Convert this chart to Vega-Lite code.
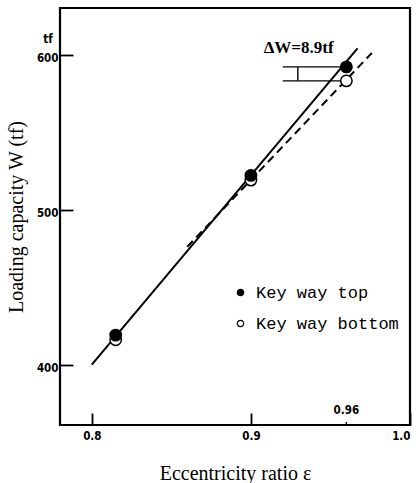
{
  "$schema": "https://vega.github.io/schema/vega-lite/v6.json",
  "autosize": {"type": "none"},
  "width": 350,
  "height": 417,
  "padding": {"left": 60, "top": 8, "right": 10, "bottom": 58},
  "background": "white",
  "config": {
    "view": {"stroke": "black", "strokeWidth": 2.2},
    "axis": {
      "domain": false,
      "grid": false,
      "ticks": true,
      "tickColor": "black",
      "tickWidth": 1.8,
      "labelColor": "black",
      "labelFont": "DejaVu Sans Condensed",
      "labelFontWeight": "bold",
      "labelFontSize": 11.5,
      "titleFont": "Liberation Serif",
      "titleFontWeight": "normal",
      "titleFontSize": 20,
      "titleColor": "black"
    }
  },
  "datasets": {
    "pts": [
      {"eps": 0.815, "W": 416, "series": "Key way bottom"},
      {"eps": 0.9, "W": 519, "series": "Key way bottom"},
      {"eps": 0.96, "W": 583, "series": "Key way bottom"},
      {"eps": 0.815, "W": 419, "series": "Key way top"},
      {"eps": 0.9, "W": 522, "series": "Key way top"},
      {"eps": 0.96, "W": 592, "series": "Key way top"}
    ],
    "solid": [
      {"eps": 0.8, "W": 400},
      {"eps": 0.967, "W": 604}
    ],
    "dashed": [
      {"eps": 0.86, "W": 476},
      {"eps": 0.976, "W": 601}
    ],
    "hsegs": [
      {"xa": 0.92, "xb": 0.959, "W": 592},
      {"xa": 0.92, "xb": 0.957, "W": 583}
    ],
    "vsegs": [
      {"eps": 0.9295, "Wa": 583, "Wb": 592},
      {"eps": 0.96, "Wa": 361, "Wb": 363}
    ],
    "labels": [
      {"eps": 0.93, "W": 604.5, "text": "ΔW=8.9tf", "kind": "delta"},
      {"eps": 0.96, "W": 370, "text": "0.96", "kind": "tick"},
      {"eps": 0.7725, "W": 609.5, "text": "tf", "kind": "unit"}
    ]
  },
  "layer": [
    {
      "data": {"name": "solid"},
      "mark": {"type": "line", "color": "black", "strokeWidth": 2},
      "encoding": {
        "x": {"field": "eps", "type": "quantitative", "scale": {"domain": [0.78, 1.0], "nice": false},
          "axis": {"values": [0.8, 0.9, 1.0], "format": ".1f", "offset": -12, "tickSize": 12, "labelPadding": 5, "title": "Eccentricity ratio  ε", "titlePadding": 22}},
        "y": {"field": "W", "type": "quantitative", "scale": {"domain": [361, 630], "nice": false, "zero": false},
          "axis": {"values": [400, 500, 600], "offset": -13, "tickSize": 13, "labelPadding": 2, "labelOffset": 4, "title": "Loading capacity  W (tf)", "titlePadding": 10}}
      }
    },
    {
      "data": {"name": "dashed"},
      "mark": {"type": "line", "color": "black", "strokeWidth": 2, "strokeDash": [8, 5]},
      "encoding": {
        "x": {"field": "eps", "type": "quantitative"},
        "y": {"field": "W", "type": "quantitative"}
      }
    },
    {
      "data": {"name": "hsegs"},
      "mark": {"type": "rule", "color": "black", "strokeWidth": 1.4},
      "encoding": {
        "x": {"field": "xa", "type": "quantitative"},
        "x2": {"field": "xb"},
        "y": {"field": "W", "type": "quantitative"}
      }
    },
    {
      "data": {"name": "vsegs"},
      "mark": {"type": "rule", "color": "black", "strokeWidth": 1.4},
      "encoding": {
        "x": {"field": "eps", "type": "quantitative"},
        "y": {"field": "Wa", "type": "quantitative"},
        "y2": {"field": "Wb"}
      }
    },
    {
      "data": {"name": "pts"},
      "mark": {"type": "point", "shape": "circle", "filled": true, "stroke": "black", "strokeWidth": 1.5, "size": 130, "opacity": 1},
      "encoding": {
        "x": {"field": "eps", "type": "quantitative"},
        "y": {"field": "W", "type": "quantitative"},
        "fill": {"field": "series", "type": "nominal",
          "scale": {"domain": ["Key way top", "Key way bottom"], "range": ["black", "white"]},
          "legend": {"title": null, "orient": "none", "legendX": 172, "legendY": 276,
            "symbolSize": 40, "symbolStrokeColor": "black", "symbolStrokeWidth": 1.2, "symbolType": "circle",
            "labelFont": "Liberation Mono", "labelFontSize": 17, "labelColor": "black", "labelOffset": 7, "rowPadding": 13}}
      }
    },
    {
      "data": {"name": "labels"},
      "transform": [{"filter": "datum.kind == 'delta'"}],
      "mark": {"type": "text", "font": "Liberation Serif", "fontSize": 17, "fontWeight": "bold", "color": "black", "baseline": "middle", "align": "center"},
      "encoding": {
        "x": {"field": "eps", "type": "quantitative"},
        "y": {"field": "W", "type": "quantitative"},
        "text": {"field": "text"}
      }
    },
    {
      "data": {"name": "labels"},
      "transform": [{"filter": "datum.kind != 'delta'"}],
      "mark": {"type": "text", "font": "DejaVu Sans Condensed", "fontSize": 11.5, "fontWeight": "bold", "color": "black", "baseline": "middle", "align": "center"},
      "encoding": {
        "x": {"field": "eps", "type": "quantitative"},
        "y": {"field": "W", "type": "quantitative"},
        "text": {"field": "text"}
      }
    }
  ]
}
